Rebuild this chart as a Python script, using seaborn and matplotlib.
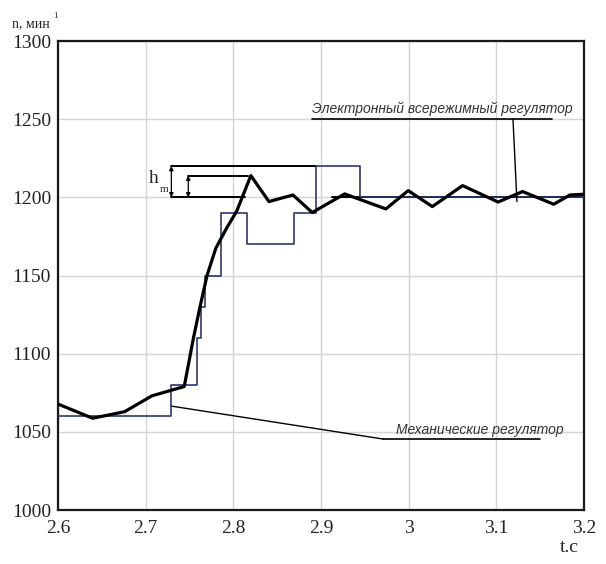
import matplotlib
matplotlib.use("Agg")
import matplotlib.pyplot as plt
import seaborn as sns
import pandas as pd
import numpy as np

# Механический регулятор (ступенчатая характеристика)
t_mech = [2.600, 2.7285, 2.758, 2.763, 2.768, 2.7855, 2.816, 2.869, 2.894, 2.944, 3.200]
n_mech = [1060, 1080, 1110, 1130, 1150, 1190, 1170, 1190, 1220, 1200, 1200]

# Электронный всережимный регулятор
t_el = [2.600, 2.6395, 2.676, 2.707, 2.744, 2.7545, 2.762, 2.770, 2.780, 2.792,
        2.8037, 2.820, 2.8406, 2.868, 2.890, 2.927, 2.974, 2.9995, 3.027, 3.0615,
        3.102, 3.130, 3.1655, 3.184, 3.200]
n_el = [1067.8, 1058.7, 1062.9, 1073.0, 1079.0, 1110.0, 1130.0, 1150.0, 1167.4, 1180.0,
        1191.0, 1213.9, 1197.3, 1201.5, 1190.3, 1202.2, 1192.6, 1204.3, 1194.1, 1207.5,
        1197.0, 1203.7, 1195.6, 1201.5, 1202.0]

x_ticks = [2.6, 2.7, 2.8, 2.9, 3.0, 3.1, 3.2]
x_labels = ["2.6", "2.7", "2.8", "2.9", "3", "3.1", "3.2"]
y_ticks = [1000, 1050, 1100, 1150, 1200, 1250, 1300]

n_set = 1200
n_max_mech = 1220
n_max_el = 1213.9

sns.set_style("white")
plt.rcParams["font.family"] = ["Liberation Serif", "DejaVu Serif"]

fig = plt.figure(figsize=(6.06, 5.64), dpi=100)
ax = fig.add_axes([0.0957, 0.0957, 0.868, 0.8316])

df_mech = pd.DataFrame({"t": t_mech, "n": n_mech})
df_el = pd.DataFrame({"t": t_el, "n": n_el})

sns.lineplot(data=df_mech, x="t", y="n", ax=ax, color="#2b3a67", linewidth=1.2,
             drawstyle="steps-post", zorder=3)
sns.lineplot(data=df_el, x="t", y="n", ax=ax, color="black", linewidth=2.3, zorder=4)

# уставка 1200
ax.plot([2.912, 3.2], [n_set, n_set], color="black", lw=1.4, zorder=2)

# обозначение h_m
ax.plot([2.7293, 2.813], [n_set, n_set], color="black", lw=1.4, zorder=2)
ax.plot([2.7293, 2.894], [n_max_mech, n_max_mech], color="black", lw=1.4, zorder=2)
ax.plot([2.7486, 2.817], [n_max_el, n_max_el], color="black", lw=1.4, zorder=2)
arr = dict(arrowstyle="<|-|>", color="black", lw=0.9, mutation_scale=6,
           shrinkA=0, shrinkB=0)
ax.annotate("", xy=(2.7293, n_max_mech), xytext=(2.7293, n_set), arrowprops=arr)
ax.annotate("", xy=(2.7486, n_max_el), xytext=(2.7486, n_set), arrowprops=arr)
ax.text(2.704, 1212, "h", fontsize=14, ha="left", va="center")
ax.text(2.7165, 1205, "m", fontsize=8, ha="left", va="center")

# подписи кривых
lab_font = dict(family=["Liberation Sans", "DejaVu Sans"], style="italic",
                fontsize=10, color="#333333")
ax.text(2.890, 1256.5, "Электронный всережимный регулятор", ha="left", va="center",
        **lab_font)
ax.plot([2.890, 3.163], [1250, 1250], color="black", lw=1.2)
ax.plot([3.119, 3.1235], [1250, 1197.3], color="black", lw=1.0, zorder=5)

ax.text(2.985, 1051.5, "Механические регулятор", ha="left", va="center", **lab_font)
ax.plot([2.971, 3.150], [1045.4, 1045.4], color="black", lw=1.2)
ax.plot([2.729, 2.971], [1066.5, 1045.4], color="black", lw=1.0)

ax.set_xlim(2.6, 3.2)
ax.set_ylim(1000, 1300)
ax.set_xticks(x_ticks)
ax.set_xticklabels(x_labels)
ax.set_yticks(y_ticks)
ax.set_xticks(np.arange(2.65, 3.2, 0.1), minor=True)
ax.set_yticks(np.arange(1025, 1300, 50), minor=True)
ax.set_xlabel("")
ax.set_ylabel("")

ax.grid(True, which="major", color="#d4d4d4", lw=1.0)
ax.tick_params(which="major", direction="in", length=9, width=1.5, labelsize=14,
               pad=7, colors="#222222", top=False, right=False)
ax.tick_params(which="minor", direction="in", length=5, width=1.3,
               top=False, right=False)
ax.tick_params(axis="y", which="major", pad=5)
for s in ax.spines.values():
    s.set_visible(True)
    s.set_linewidth(1.6)
    s.set_color("#1a1a1a")

fig.text(12 / 606, 1 - 24 / 564, "n, мин", fontsize=10, ha="left", va="center")
fig.text(53 / 606, 1 - 16 / 564, "1", fontsize=6.5, ha="left", va="center")
fig.text(569 / 606, 1 - 548 / 564, "t.c", fontsize=14, ha="center", va="center")

fig.savefig("out.png", dpi=100, facecolor="white")
